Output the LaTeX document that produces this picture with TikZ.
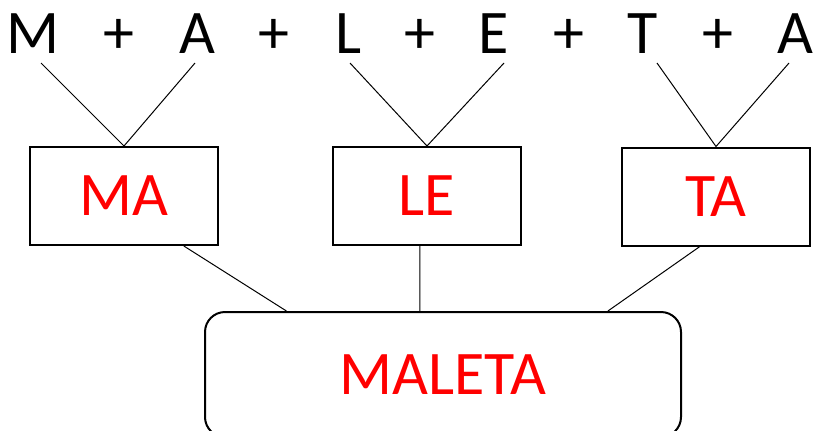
\documentclass[tikz,border=0pt]{standalone}
\usepackage{fontspec}
\setmainfont{Carlito}
\usetikzlibrary{calc}
\begin{document}
\begin{tikzpicture}[x=0.75pt,y=-0.75pt,
  letter/.style={font=\fontsize{46.5}{50}\selectfont, anchor=base, inner sep=0pt},
  wordbox/.style={draw, line width=1.5pt, inner sep=0pt, text=red,
    font=\fontsize{46.5}{50}\selectfont, minimum width=141pt, minimum height=73.5pt},
  bigbox/.style={draw, line width=1.5pt, inner sep=0pt, text=red, rounded corners=15pt,
    font=\fontsize{46.5}{50}\selectfont, minimum width=357pt, minimum height=93.75pt},
  thin/.style={line width=0.75pt}]
\useasboundingbox (0,0) rectangle (816,430);
\clip (0,0) rectangle (816,430);
% top letters
\node[letter] (m1) at (33,53) {M};
\node[letter] (p1) at (119,53) {+};
\node[letter] (a1) at (197,53) {A};
\node[letter] (p2) at (274,53) {+};
\node[letter] (l1) at (349,53) {L};
\node[letter] (p3) at (420,53) {+};
\node[letter] (e1) at (494,53) {E};
\node[letter] (p4) at (569,53) {+};
\node[letter] (t1) at (643,53) {T};
\node[letter] (p5) at (718,53) {+};
\node[letter] (a2) at (795,53) {A};
% line ends below the letters
\coordinate (m1b) at (41,63);
\coordinate (a1b) at (195,63);
\coordinate (l1b) at (350,63);
\coordinate (e1b) at (504,63);
\coordinate (t1b) at (657,63);
\coordinate (a2b) at (789,63);
% boxes
\node[wordbox] (ma) at (124,196) {MA};
\node[wordbox] (le) at (427,196) {LE};
\node[wordbox] (ta) at (716,196.5) {TA};
\node[bigbox] (mal) at (443,374.5) {MALETA};
% connectors
\draw[thin] (m1b) -- (ma.north) -- (a1b);
\draw[thin] (l1b) -- (le.north) -- (e1b);
\draw[thin] (t1b) -- (ta.north) -- (a2b);
\draw[thin] ($(ma.south)!0.63!(ma.south east)$) -- ($(mal.north)!0.655!(mal.north west)$);
\draw[thin] ($(le.south)!0.075!(le.south west)$) -- ($(mal.north)!0.097!(mal.north west)$);
\draw[thin] ($(ta.south)!0.17!(ta.south west)$) -- ($(mal.north)!0.69!(mal.north east)$);
\end{tikzpicture}
\end{document}
